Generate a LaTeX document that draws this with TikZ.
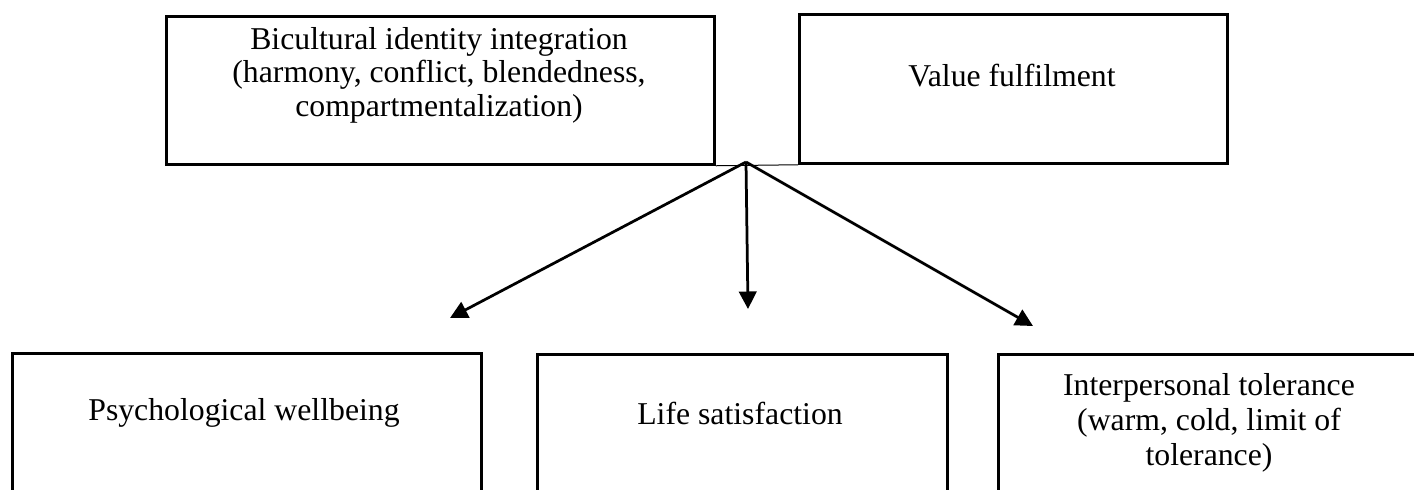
\documentclass[tikz,border=0pt]{standalone}
\usepackage{fontspec}
\setmainfont{Liberation Serif}
\usetikzlibrary{arrows.meta, positioning}

\tikzset{
  box/.style={draw, line width=1.1pt, anchor=north west, inner sep=0pt},
  boxtext/.style={align=center, font=\fontsize{12.7}{13.4}\selectfont},
  link/.style={line width=1.1pt, -{Triangle[length=7pt, width=7pt]}}
}

\begin{document}
\begin{tikzpicture}[x=0.4pt, y=-0.4pt]
    \useasboundingbox (0,0) rectangle (1414,489);
    \clip (0,0) rectangle (1414,489);
    % Predictors
    \node[box, minimum width=219.2pt, minimum height=59.2pt] (bii) at (165,15) {};
    \node[box, minimum width=171.2pt, minimum height=59.6pt] (value) at (798,13) {};
    \node[boxtext] (biitext) at (439,75) {Bicultural identity integration\\(harmony, conflict, blendedness,\\compartmentalization)};
    \node[boxtext] (valuetext) at (1012,76) {Value fulfilment};
    \draw[line width=0.4pt] (bii.south east) -- (value.south west);
    % Outcomes
    \node[box, minimum width=187.6pt, minimum height=80pt] (well) at (11,352) {};
    \node[box, minimum width=164pt, minimum height=80pt] (life) at (536,353) {};
    \node[box, minimum width=169.6pt, minimum height=80pt] (tol) at (997,353) {};
    \node[boxtext] (welltext) at (244,413) {Psychological wellbeing};
    \node[boxtext] (lifetext) at (740,413) {Life satisfaction};
    \node[boxtext, font=\fontsize{12.7}{14}\selectfont] (toltext) at (1209,423) {Interpersonal tolerance\\(warm, cold, limit of\\tolerance)};
    % Arrows
    \coordinate (hub) at (746,162);
    \coordinate (tipL) at (450,318);
    \coordinate (tipM) at (748,309);
    \coordinate (tipR) at (1033,326);
    \draw[link] (hub) -- (tipL);
    \draw[link] (hub) -- (tipM);
    \draw[link] (hub) -- (tipR);
\end{tikzpicture}
\end{document}
